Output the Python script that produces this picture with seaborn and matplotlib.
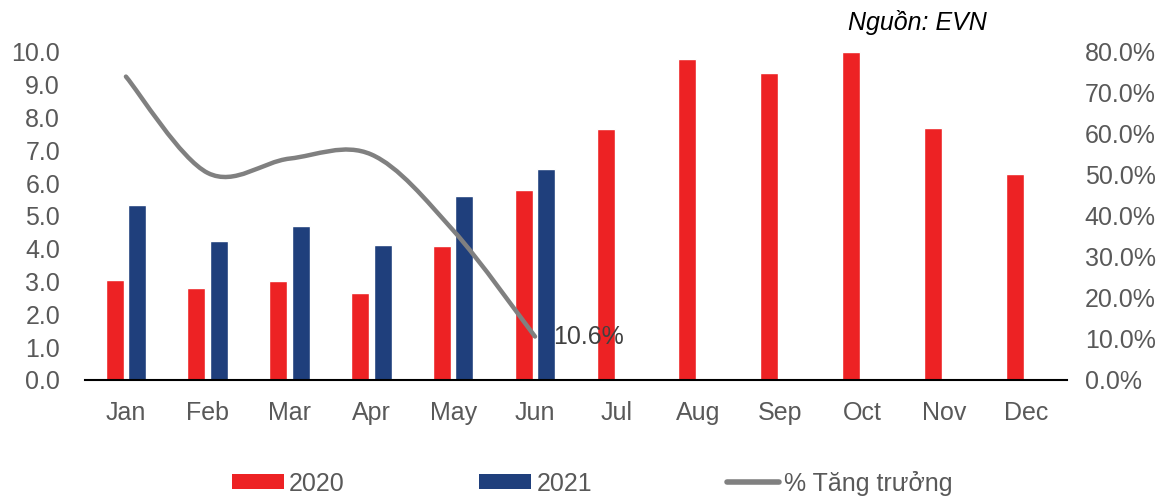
import numpy as np
import pandas as pd
import matplotlib
matplotlib.use("Agg")
import matplotlib.pyplot as plt
from matplotlib.path import Path
from matplotlib.patches import PathPatch, Patch
from matplotlib.lines import Line2D
import seaborn as sns

months = ["Jan", "Feb", "Mar", "Apr", "May", "Jun", "Jul", "Aug", "Sep", "Oct", "Nov", "Dec"]
v2020 = [3.05, 2.80, 3.03, 2.65, 4.10, 5.80, 7.65, 9.78, 9.35, 10.0, 7.68, 6.27]
v2021 = [5.33, 4.23, 4.68, 4.13, 5.60, 6.43, None, None, None, None, None, None]
growth = [0.740, 0.505, 0.540, 0.550, 0.365, 0.106]
growth_label = "10.6%"
series = ["2020", "2021"]
line_name = "% Tăng trưởng"
source = "Nguồn: EVN"

RED = "#ED2224"
BLUE = "#1F3F7C"
GRAY = "#808080"
TXT = "#595959"
FS = 18

sns.set_theme(style="white")
plt.rcParams["font.family"] = ["Liberation Sans", "DejaVu Sans"]

rows = []
for m, a, b in zip(months, v2020, v2021):
    rows.append({"month": m, "year": series[0], "value": a})
    rows.append({"month": m, "year": series[1], "value": np.nan if b is None else b})
df = pd.DataFrame(rows)

fig = plt.figure(figsize=(11.71, 4.99), dpi=100)
ax = fig.add_axes([0.0726, 0.2385, 0.8384, 0.6573])
sns.barplot(data=df, x="month", y="value", hue="year", hue_order=series,
            order=months, palette=[RED, BLUE], width=0.55, gap=0.2,
            errorbar=None, ax=ax, legend=False, saturation=1)
ax.set_xlim(-0.5, 11.5)
ax.set_ylim(0, 10)
ax.set_yticks(np.arange(0, 10.01, 1))
ax.set_yticklabels([f"{v:.1f}" for v in np.arange(0, 10.01, 1)])
ax.set_xlabel("")
ax.set_ylabel("")
for s in ["top", "left", "right"]:
    ax.spines[s].set_visible(False)
ax.spines["bottom"].set_color("black")
ax.spines["bottom"].set_linewidth(1.5)
ax.tick_params(axis="both", length=0, labelsize=FS, labelcolor=TXT)
ax.tick_params(axis="x", pad=15)
ax.tick_params(axis="y", pad=18)

ax2 = ax.twinx()
ax2.set_ylim(0, 0.8)
ax2.set_yticks(np.arange(0, 0.801, 0.1))
ax2.set_yticklabels([f"{v*100:.1f}%" for v in np.arange(0, 0.801, 0.1)])
for s in ["top", "left", "right", "bottom"]:
    ax2.spines[s].set_visible(False)
ax2.tick_params(axis="y", length=0, labelsize=FS, labelcolor=TXT, pad=13)
ax2.grid(False)
ax.grid(False)

# smoothed line (Excel-style Bezier through the data points)
xs = np.arange(len(growth), dtype=float)
ys = np.array(growth)
pts = list(zip(xs, ys))
verts = [pts[0]]
codes = [Path.MOVETO]
n = len(pts)
for i in range(n - 1):
    p0 = np.array(pts[i - 1] if i > 0 else pts[i])
    p1 = np.array(pts[i])
    p2 = np.array(pts[i + 1])
    p3 = np.array(pts[i + 2] if i + 2 < n else pts[i + 1])
    c1 = p1 + (p2 - p0) / 6.0
    c2 = p2 - (p3 - p1) / 6.0
    verts += [tuple(c1), tuple(c2), tuple(p2)]
    codes += [Path.CURVE4] * 3
ax2.add_patch(PathPatch(Path(verts, codes), facecolor="none", edgecolor=GRAY,
                        lw=3.2, capstyle="round", zorder=5))
ax2.text(xs[-1] + 0.22, ys[-1], growth_label, fontsize=FS, color="#404040",
         va="center", ha="left")

fig.text(0.783, 0.955, source, fontsize=FS, style="italic", color="black",
         ha="center", va="center")

handles = [Patch(facecolor=RED, edgecolor="none"),
           Patch(facecolor=BLUE, edgecolor="none"),
           Line2D([0], [0], color=GRAY, lw=4, solid_capstyle="round")]
leg = fig.legend(handles, series + [line_name], loc="center", ncol=3,
                 bbox_to_anchor=(0.5055, 0.032), frameon=False,
                 prop={"size": FS},
                 handlelength=2.08, handleheight=0.52, handletextpad=0.2,
                 columnspacing=5.4)
for t in leg.get_texts():
    t.set_color(TXT)

fig.savefig("out.png", dpi=100)
